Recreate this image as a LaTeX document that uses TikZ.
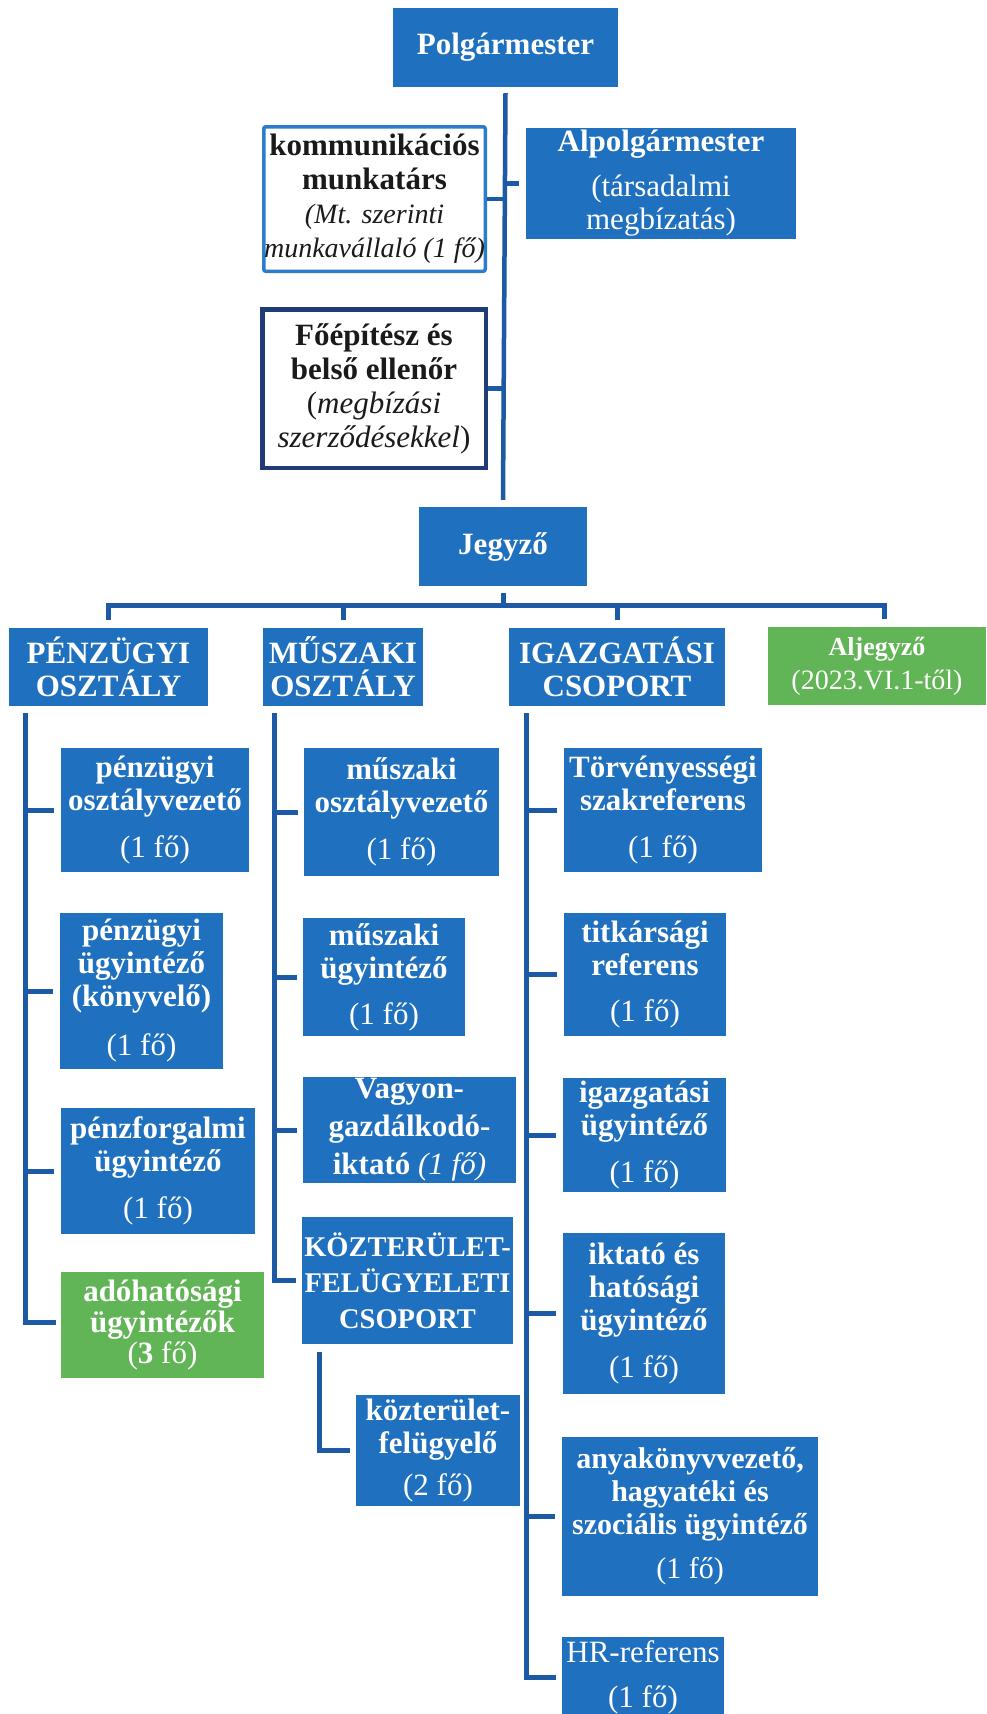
\documentclass[tikz,border=0pt]{standalone}
\usepackage{fontspec}
\setmainfont{Liberation Serif}
\usetikzlibrary{calc}
\definecolor{boxblue}{HTML}{1F70BE}
\definecolor{boxgreen}{HTML}{62B557}
\definecolor{linecol}{HTML}{1C5AA5}
\definecolor{kommborder}{HTML}{2B7DCB}
\definecolor{foepborder}{HTML}{1F3C78}
\definecolor{textdark}{HTML}{1A1A1A}
\begin{document}
\begin{tikzpicture}[x=1pt,y=-1pt,
  conn/.style={draw=linecol,line width=5pt},
  bbox/.style={fill=boxblue,text=white,align=center,inner sep=0pt,font=\bfseries\fontsize{31}{33}\selectfont},
  gbox/.style={bbox,fill=boxgreen},
  wbox/.style={fill=white,text=textdark,align=center,inner sep=0pt,font=\bfseries\fontsize{31}{34}\selectfont},
]
\useasboundingbox (0,0) rectangle (986,1714);

% top level
\node[bbox,minimum width=225pt,minimum height=79pt] (polg) at (505.5,47.5) {Polgármester};
\node[wbox,draw=kommborder,line width=3.5pt,rounded corners=2pt,minimum width=221.5pt,minimum height=144.5pt] (komm) at (374.5,199)
  {kommunikációs\\munkatárs\\{\mdseries\itshape\fontsize{28}{32}\selectfont (Mt. szerinti}\\{\mdseries\itshape\fontsize{28}{32}\selectfont munkavállaló (1 fő)}};
\node[bbox,minimum width=270pt,minimum height=111pt] (alpol) at (661,183.5)
  {Alpolgármester\\[12pt]{\mdseries (társadalmi}\\{\mdseries megbízatás)}};
\node[wbox,draw=foepborder,line width=4.5pt,minimum width=223.5pt,minimum height=158.5pt] (foep) at (374,388.5)
  {Főépítész és\\belső ellenőr\\{\mdseries (\textit{megbízási}}\\{\mdseries\textit{szerződésekkel})}};
\node[bbox,minimum width=168pt,minimum height=79pt] (jegyzo) at (503,546.5) {Jegyző};

% departments
\node[bbox,minimum width=199pt,minimum height=78pt] (penz) at (108.5,667) {PÉNZÜGYI\\OSZTÁLY};
\node[bbox,minimum width=160pt,minimum height=78pt] (musz) at (343,667) {MŰSZAKI\\OSZTÁLY};
\node[bbox,minimum width=216pt,minimum height=78pt] (igazg) at (617,667) {IGAZGATÁSI\\CSOPORT};
\node[gbox,font=\bfseries\fontsize{26}{34}\selectfont,minimum width=218pt,minimum height=78pt] (aljegyzo) at (877,666)
  {Aljegyző\\{\mdseries\fontsize{28}{34}\selectfont (2023.VI.1-től)}};

% column 1
\node[bbox,minimum width=188pt,minimum height=124pt] (p1) at (155,810) {pénzügyi\\osztályvezető\\[14pt]{\mdseries (1 fő)}};
\node[bbox,minimum width=163pt,minimum height=156pt] (p2) at (141.5,991) {pénzügyi\\ügyintéző\\(könyvelő)\\[16pt]{\mdseries (1 fő)}};
\node[bbox,minimum width=194pt,minimum height=126pt] (p3) at (158,1171) {pénzforgalmi\\ügyintéző\\[14pt]{\mdseries (1 fő)}};
\node[gbox,font=\bfseries\fontsize{31}{31}\selectfont,minimum width=203pt,minimum height=106pt] (p4) at (162.5,1325) {adóhatósági\\ügyintézők\\{\mdseries (\textbf{3} fő)}};

% column 2
\node[bbox,minimum width=195pt,minimum height=128pt] (m1) at (401.5,812) {műszaki\\osztályvezető\\[14pt]{\mdseries (1 fő)}};
\node[bbox,minimum width=162pt,minimum height=118pt] (m2) at (384,977) {műszaki\\ügyintéző\\[13pt]{\mdseries (1 fő)}};
\node[bbox,font=\bfseries\fontsize{31}{38}\selectfont,minimum width=213pt,minimum height=106pt] (m3) at (409.5,1130) {Vagyon-\\gazdálkodó-\\iktató {\mdseries\itshape (1 fő)}};
\node[bbox,font=\bfseries\fontsize{28.5}{36}\selectfont,minimum width=211pt,minimum height=127pt] (m4) at (407.5,1280.5) {KÖZTERÜLET-\\FELÜGYELETI\\CSOPORT};
\node[bbox,minimum width=164pt,minimum height=111pt] (m5) at (438,1450.5) {közterület-\\felügyelő\\[9pt]{\mdseries (2 fő)}};

% column 3
\node[bbox,minimum width=198pt,minimum height=124pt] (g1) at (663,810) {Törvényességi\\szakreferens\\[14pt]{\mdseries (1 fő)}};
\node[bbox,minimum width=162pt,minimum height=123pt] (g2) at (645,974.5) {titkársági\\referens\\[13pt]{\mdseries (1 fő)}};
\node[bbox,minimum width=163pt,minimum height=114pt] (g3) at (644.5,1135) {igazgatási\\ügyintéző\\[14pt]{\mdseries (1 fő)}};
\node[bbox,minimum width=162pt,minimum height=161pt] (g4) at (644,1313.5) {iktató és\\hatósági\\ügyintéző\\[14pt]{\mdseries (1 fő)}};
\node[bbox,font=\bfseries\fontsize{30}{33}\selectfont,minimum width=256pt,minimum height=159pt] (g5) at (690,1516.5) {anyakönyvvezető,\\hagyatéki és\\szociális ügyintéző\\[11pt]{\mdseries (1 fő)}};
\node[bbox,minimum width=162pt,minimum height=80pt] (g6) at (643,1677) {{\mdseries HR-referens}\\[12pt]{\mdseries (1 fő)}};

% spine
\coordinate (spA) at ($(polg.south)+(0,6)$);
\coordinate (spB) at ($(jegyzo.north)+(0,-7)$);
\draw[conn,line width=4.5pt] (spA) -- (spB);
\draw[conn,line width=4.5pt] (komm.east) -- (komm.east -| spA);
\draw[conn,line width=4.5pt] (spA |- alpol.west) -- ($(alpol.west)+(-7,0)$);
\draw[conn,line width=4.5pt] (foep.east) -- (foep.east -| spA);

% Jegyzo bar
\coordinate (bar) at ($(jegyzo.south)+(0,19)$);
\draw[conn] ($(jegyzo.south)+(0,7)$) -- (bar);
\draw[conn] ($(penz.north)+(0,-8)$) |- (bar) -| ($(aljegyzo.north)+(7,-8)$);
\draw[conn] ($(musz.north)+(0,-8)$) -- (musz.north |- bar);
\draw[conn] ($(igazg.north)+(0,-8)$) -- (igazg.north |- bar);

% column lines
\coordinate (c1) at ($(penz.south west)+(17,7)$);
\coordinate (c2) at ($(musz.south west)+(12,7)$);
\coordinate (c3) at ($(igazg.south west)+(18,7)$);
\coordinate (c4) at ($(m4.south west)+(18,8)$);

\draw[conn] (c1) |- ($(p4.west)+(-5,-3)$);
\draw[conn] (c1 |- p1.west) -- ($(p1.west)+(-7,0)$);
\draw[conn] (c1 |- p2.west) -- ($(p2.west)+(-7,0)$);
\draw[conn] (c1 |- p3.west) -- ($(p3.west)+(-7,0)$);

\draw[conn] (c2) |- ($(m4.west)+(-6,0)$);
\draw[conn] (c2 |- m1.west) -- ($(m1.west)+(-6,0)$);
\draw[conn] (c2 |- m2.west) -- ($(m2.west)+(-6,0)$);
\draw[conn] (c2 |- m3.west) -- ($(m3.west)+(-6,0)$);
\draw[conn] (c4) |- ($(m5.west)+(-6,0)$);

\draw[conn] (c3) |- ($(g6.west)+(-6,0)$);
\draw[conn] (c3 |- g1.west) -- ($(g1.west)+(-7,0)$);
\draw[conn] (c3 |- g2.west) -- ($(g2.west)+(-7,0)$);
\draw[conn] (c3 |- g3.west) -- ($(g3.west)+(-7,0)$);
\draw[conn] (c3 |- g4.west) -- ($(g4.west)+(-7,0)$);
\draw[conn] (c3 |- g5.west) -- ($(g5.west)+(-7,0)$);
\end{tikzpicture}
\end{document}
